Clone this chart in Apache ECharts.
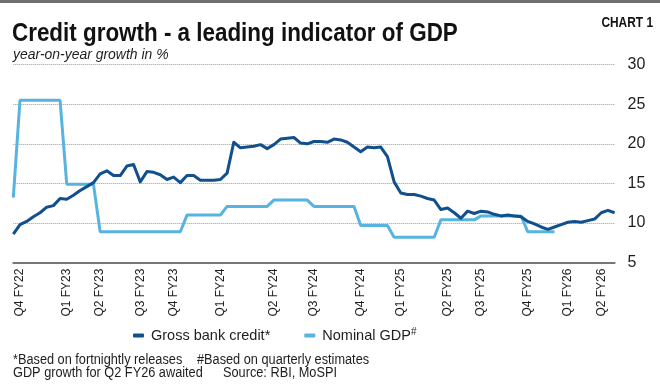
<!DOCTYPE html>
<html><head><meta charset="utf-8">
<script src="https://cdn.jsdelivr.net/npm/echarts@6/dist/echarts.min.js"></script>
<style>html,body{margin:0;padding:0;background:#fff}#c{width:660px;height:389px}</style>
</head><body><div id="c"></div>
<script>
// Quarter labels and the data index where each quarter starts (first entry is unlabeled lead-in)
const quarterLabels = ['Q3 FY22','Q4 FY22','Q1 FY23','Q2 FY23','Q3 FY23','Q4 FY23','Q1 FY24','Q2 FY24','Q3 FY24','Q4 FY24','Q1 FY25','Q2 FY25','Q3 FY25','Q4 FY25','Q1 FY26','Q2 FY26'];
const quarterStart  = [0, 1, 8, 13, 19, 24, 31, 39, 45, 52, 58, 65, 70, 77, 83, 88];

// Gross bank credit growth, fortnightly (%)
const creditGrowth = [
  8.6, 9.8, 10.2, 10.8, 11.3, 12.0, 12.2, 13.1, 13.0, 13.5,
  14.1, 14.6, 15.1, 16.2, 16.6, 16.0, 16.0, 17.2, 17.4, 15.2,
  16.5, 16.4, 16.1, 15.5, 15.8, 15.1, 16.0, 16.0, 15.4, 15.4,
  15.4, 15.5, 16.3, 20.2, 19.5, 19.6, 19.7, 19.9, 19.4, 19.9,
  20.6, 20.7, 20.8, 20.1, 20.0, 20.3, 20.3, 20.2, 20.6, 20.5,
  20.2, 19.6, 19.0, 19.6, 19.5, 19.6, 18.4, 15.2, 13.8, 13.6,
  13.6, 13.4, 13.1, 12.9, 11.7, 11.9, 11.3, 10.6, 11.5, 11.2,
  11.5, 11.4, 11.1, 10.9, 11.0, 10.9, 10.8, 10.2, 9.9, 9.5,
  9.2, 9.5, 9.8, 10.1, 10.2, 10.1, 10.3, 10.5, 11.3, 11.6,
  11.3
];

// Nominal GDP growth (quarterly estimate, held over each quarter's fortnights) (%)
const gdpGrowth = [
  13.2,
  25.5, 25.5, 25.5, 25.5, 25.5, 25.5, 25.5,
  14.9, 14.9, 14.9, 14.9, 14.9,
  8.9, 8.9, 8.9, 8.9, 8.9, 8.9, 8.9, 8.9, 8.9, 8.9, 8.9, 8.9, 8.9,
  11.0, 11.0, 11.0, 11.0, 11.0, 11.0,
  12.1, 12.1, 12.1, 12.1, 12.1, 12.1, 12.1,
  12.9, 12.9, 12.9, 12.9, 12.9, 12.9,
  12.1, 12.1, 12.1, 12.1, 12.1, 12.1, 12.1,
  9.7, 9.7, 9.7, 9.7, 9.7,
  8.2, 8.2, 8.2, 8.2, 8.2, 8.2, 8.2,
  10.4, 10.4, 10.4, 10.4, 10.4, 10.4,
  10.9, 10.9, 10.9, 10.9, 10.9, 10.9, 10.9,
  8.9, 8.9, 8.9, 8.9, 8.9,
  null, null, null, null, null, null, null, null, null
];

const yMin = 5, yMax = 30, yStep = 5;

const FONT = "'Liberation Sans', Arial, sans-serif";
const INK = '#1e1e1e';
const CREDIT = '#124f8d';
const GDP = '#57b3e0';

// categories: quarter + fortnight number within the quarter
const categories = creditGrowth.map((_, i) => {
  let q = 0;
  for (let k = 0; k < quarterStart.length; k++) if (quarterStart[k] <= i) q = k;
  return quarterLabels[q] + ' #' + (i - quarterStart[q] + 1);
});
const labelIdx = new Set(quarterStart.slice(1));

function txt(x, y, text, size, opts) {
  opts = opts || {};
  return {
    type: 'text', x: x, y: y, scaleX: opts.sx || 1,
    style: {
      text: text, fontFamily: FONT, fontSize: size,
      fontWeight: opts.bold ? 'bold' : 'normal',
      fontStyle: opts.italic ? 'italic' : 'normal',
      fill: opts.fill || INK, align: opts.align || 'left', verticalAlign: 'middle'
    }
  };
}

const chart = echarts.init(document.getElementById('c'), null, {renderer: 'canvas'});
chart.setOption({
  animation: false,
  backgroundColor: '#fff',
  grid: {left: 13.3, right: 45.4, top: 64.7, bottom: 126.4, containLabel: false},
  xAxis: {
    type: 'category', data: categories, boundaryGap: false,
    axisLine: {lineStyle: {color: '#777', width: 2}},
    axisTick: {show: false},
    splitLine: {show: false},
    axisLabel: {
      rotate: 90, margin: 6, fontFamily: FONT, fontSize: 12, color: INK,
      interval: (idx) => labelIdx.has(idx),
      formatter: (v) => v.split(' #')[0]
    }
  },
  yAxis: {
    type: 'value', position: 'right', min: yMin, max: yMax, interval: yStep,
    axisLine: {show: false}, axisTick: {show: false},
    splitLine: {lineStyle: {color: '#9a9a9a', type: 'dotted', width: 1}},
    axisLabel: {margin: 13, fontFamily: FONT, fontSize: 16, color: INK}
  },
  legend: {
    left: 133, top: 327, padding: 0, itemWidth: 11, itemHeight: 4, itemGap: 34,
    icon: 'roundRect',
    data: ['Gross bank credit*', 'Nominal GDP'],
    textStyle: {
      fontFamily: FONT, fontSize: 14.5, color: INK,
      rich: {
        t: {fontFamily: FONT, fontSize: 14.5, color: INK, padding: [0, 0, 0, 2]},
        s: {fontFamily: FONT, fontSize: 10, color: INK, verticalAlign: 'top', padding: [0, 0, 7, 0]}
      }
    },
    formatter: (name) => name === 'Nominal GDP' ? '{t|Nominal GDP}{s|#}' : '{t|' + name + '}'
  },
  series: [
    {name: 'Nominal GDP', type: 'line', data: gdpGrowth, symbol: 'none', z: 2,
     lineStyle: {color: GDP, width: 3}, itemStyle: {color: GDP}},
    {name: 'Gross bank credit*', type: 'line', data: creditGrowth, symbol: 'none', z: 3,
     lineStyle: {color: CREDIT, width: 3, join: 'round'}, itemStyle: {color: CREDIT}}
  ],
  graphic: [
    {type: 'rect', shape: {x: 0, y: 0, width: 660, height: 3}, style: {fill: '#6f6f6f'}},
    txt(12, 34, 'Credit growth - a leading indicator of GDP', 26, {bold: true, sx: 0.862, fill: '#111'}),
    txt(653, 23, 'CHART 1', 14, {bold: true, sx: 0.85, align: 'right', fill: '#111'}),
    txt(13, 55, 'year-on-year growth in %', 15, {italic: true, sx: 0.93}),
    txt(13, 360, '*Based on fortnightly releases', 14, {sx: 0.91}),
    txt(197, 360, '#Based on quarterly estimates', 14, {sx: 0.91}),
    txt(13, 373, 'GDP growth for Q2 FY26 awaited', 14, {sx: 0.91}),
    txt(223, 373, 'Source: RBI, MoSPI', 14, {sx: 0.91})
  ]
});
</script>
</body></html>
